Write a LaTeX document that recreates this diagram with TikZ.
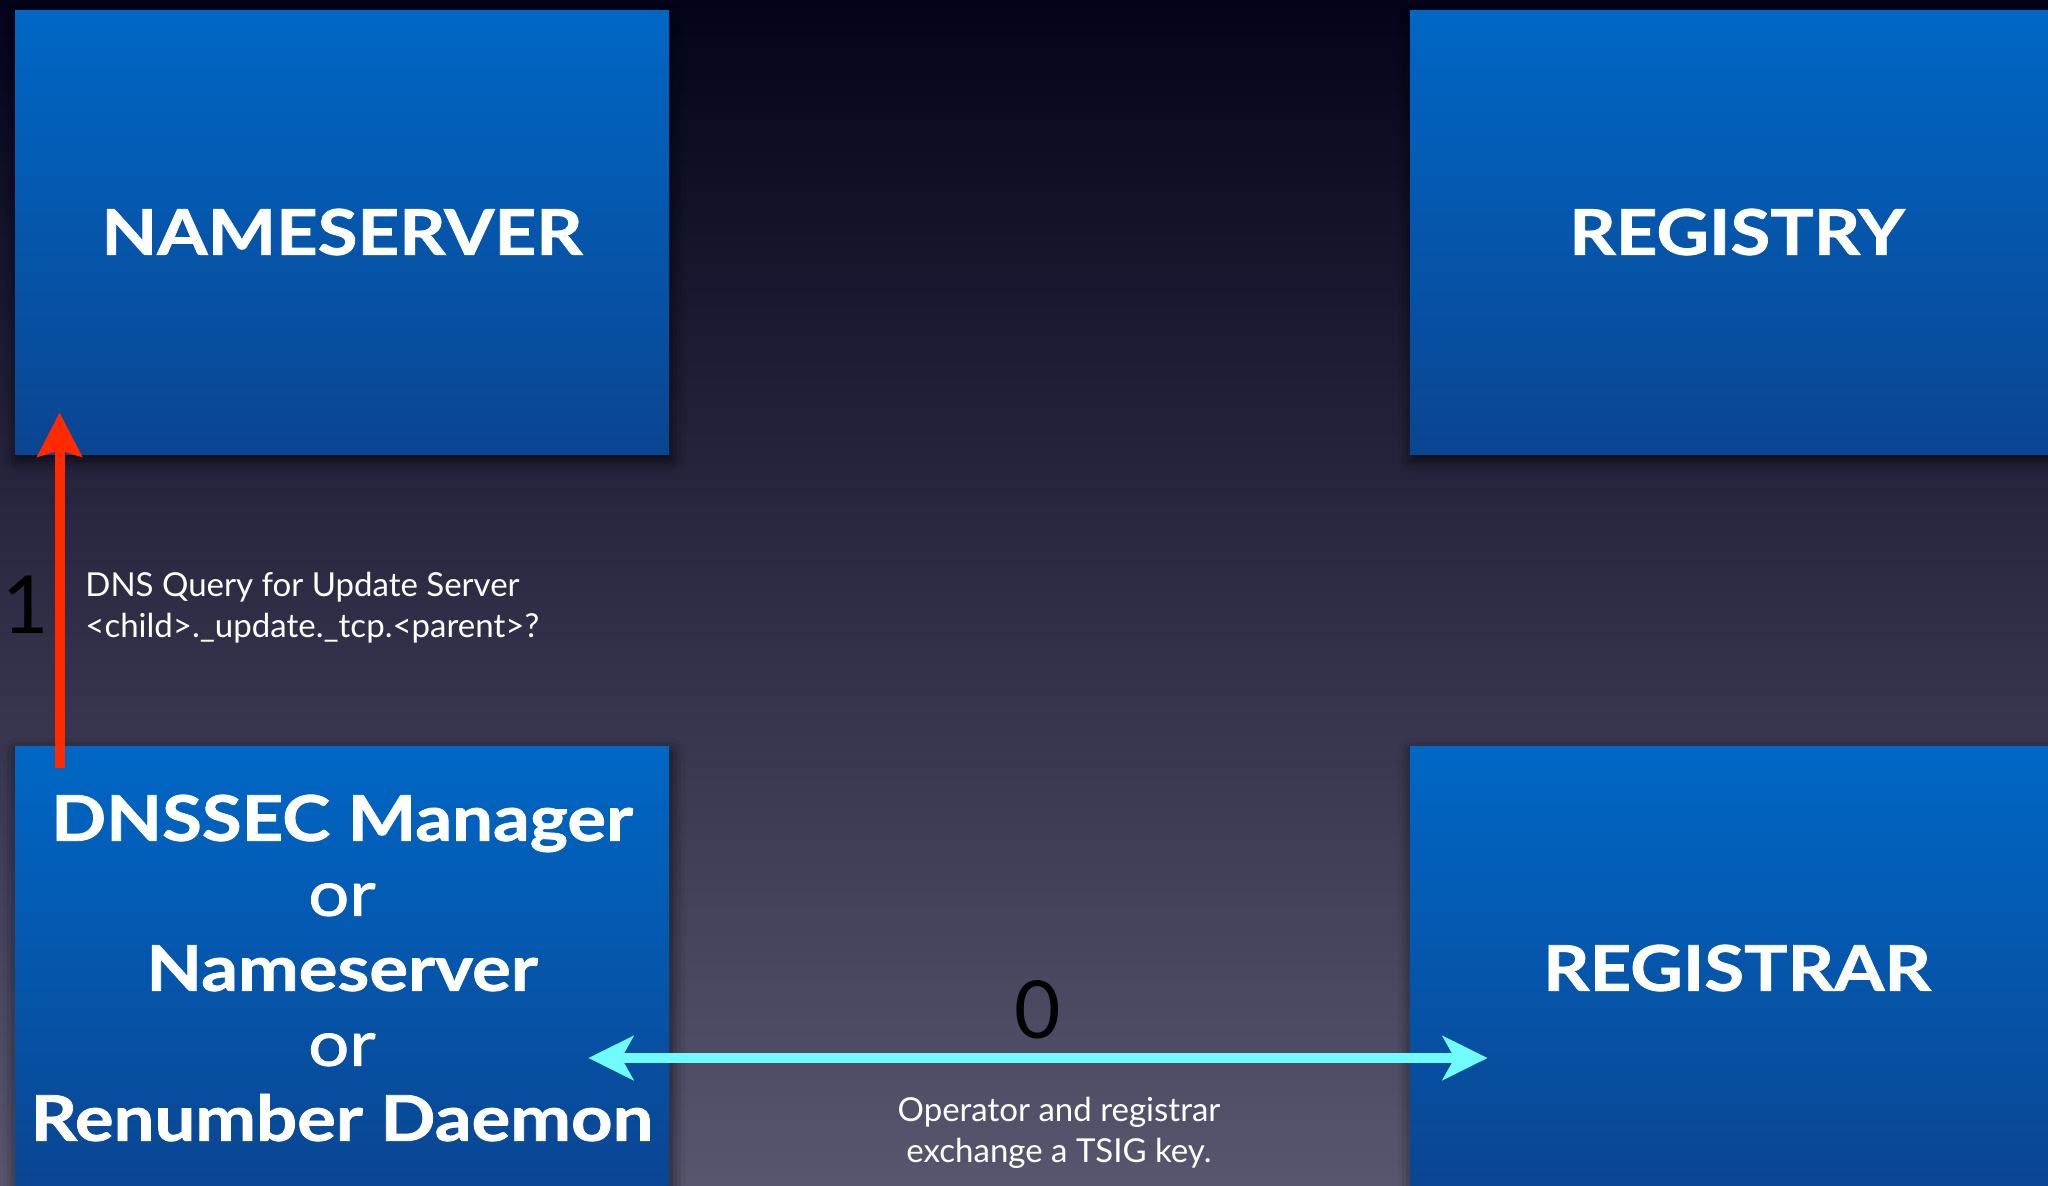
\documentclass[tikz,border=0pt]{standalone}
\usepackage{fontspec}
\setmainfont{Lato}
\newfontfamily\titlefont[FakeStretch=1.15,FakeBold=1.2]{Lato}
\usetikzlibrary{calc,arrows.meta,shadows.blur}

\definecolor{bgtop}{HTML}{03031A}
\definecolor{bgbot}{HTML}{58566F}
\definecolor{boxtop}{HTML}{0067C5}
\definecolor{boxbot}{HTML}{0A4592}
\definecolor{queryred}{HTML}{FF2A00}
\definecolor{tsigcyan}{HTML}{70FCFC}

\tikzset{
  role/.style={rectangle, inner sep=0pt,
    minimum width=327pt, minimum height=222pt,
    top color=boxtop, bottom color=boxbot,
    blur shadow={shadow xshift=1pt, shadow yshift=-3pt,
                 shadow blur radius=7pt, shadow opacity=70},
    text=white, align=center,
    font=\titlefont\bfseries\fontsize{31.5}{37.5}\selectfont},
  lbl/.style={inner sep=0pt, text=white,
    font=\fontsize{16.5}{20.5}\selectfont},
  stepnum/.style={inner sep=0pt, text=black,
    font=\fontsize{40}{40}\selectfont},
  queryarrow/.style={draw=queryred, line width=5pt,
    -{Stealth[length=22pt,width=22pt,inset=3pt]}},
  keyarrow/.style={draw=tsigcyan, line width=5pt,
    {Stealth[length=22.5pt,width=22pt,inset=6pt]}-{Stealth[length=22.5pt,width=22pt,inset=6pt]}}
}

\begin{document}
\begin{tikzpicture}[x=0.5pt,y=-0.5pt]
  \useasboundingbox (0,0) rectangle (2048,1185);
  \clip (0,0) rectangle (2048,1185);
  % backdrop
  \shade[top color=bgtop, bottom color=bgbot] (0,0) rectangle (2048,1185);

  % the four parties
  \node[role] (ns)  at (342,232)  {NAMESERVER};
  \node[role] (reg) at (1737,232) {REGISTRY};
  \node[role] (mgr) at (342,968)  {DNSSEC Manager\\{\mdseries or}\\Nameserver\\{\mdseries or}\\Renumber Daemon};
  \node[role] (rar) at (1737,968) {REGISTRAR};

  % step 1: update server lookup
  \draw[queryarrow] ($(mgr.north west)+(45,22)$) -- ($(ns.south west)+(45,-42)$);
  \node[stepnum] (s1) at (26,605) {1};
  \node[lbl, anchor=west, align=left] (query) at (85,608)
    {DNS Query for Update Server\\<child>.\_update.\_tcp.<parent>?};

  % step 0: TSIG key exchange
  \draw[keyarrow] ($(mgr.east)+(-81,90)$) -- ($(rar.west)+(78,90)$);
  \node[stepnum] (s0) at (1038,1010) {0};
  \node[lbl, align=center] (tsig) at (1059,1133)
    {Operator and registrar\\exchange a TSIG key.};
\end{tikzpicture}
\end{document}
